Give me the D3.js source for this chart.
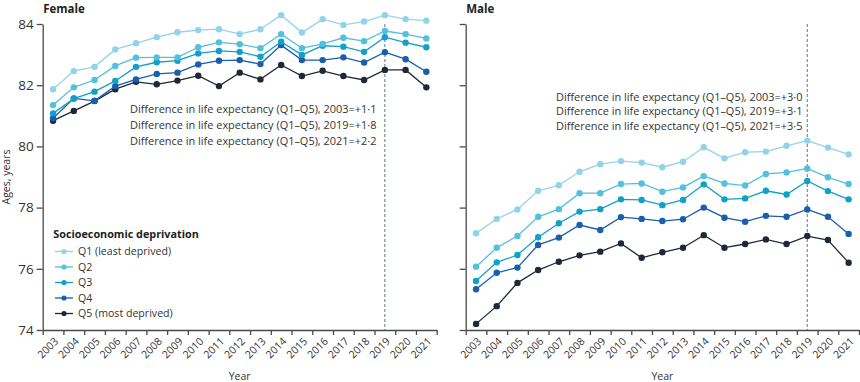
<!DOCTYPE html>
<html>
<head>
<meta charset="utf-8">
<script src="https://cdn.jsdelivr.net/npm/d3@7"></script>
<style>
  body { margin: 0; background: #fff; }
  svg { display: block; font-family: 'Open Sans', sans-serif; }
</style>
</head>
<body>
<div id="d3-container"></div>
<script>
// years on the x axis
const years = [2003, 2004, 2005, 2006, 2007, 2008, 2009, 2010, 2011, 2012,
  2013, 2014, 2015, 2016, 2017, 2018, 2019, 2020, 2021];
const yTicks = [74, 76, 78, 80, 82, 84];

const groups = ["Q1 (least deprived)", "Q2", "Q3", "Q4", "Q5 (most deprived)"];
const colors = ["#93d3ea", "#52c0de", "#10a1c8", "#1a5eac", "#1f2838"];

// life expectancy
const female_q1 = [81.87, 82.46, 82.60, 83.17, 83.37, 83.57, 83.73, 83.80, 83.83, 83.67, 83.83, 84.29, 83.72, 84.16, 83.97, 84.08, 84.29, 84.16, 84.11];
const female_q2 = [81.35, 81.93, 82.17, 82.63, 82.90, 82.91, 82.91, 83.24, 83.40, 83.34, 83.21, 83.67, 83.21, 83.35, 83.55, 83.44, 83.77, 83.67, 83.53];
const female_q3 = [81.08, 81.56, 81.79, 82.14, 82.60, 82.75, 82.80, 83.04, 83.12, 83.09, 82.93, 83.42, 82.99, 83.29, 83.26, 83.09, 83.57, 83.39, 83.24];
const female_q4 = [80.92, 81.57, 81.49, 81.97, 82.19, 82.37, 82.41, 82.68, 82.80, 82.82, 82.69, 83.31, 82.82, 82.82, 82.91, 82.74, 83.08, 82.85, 82.44];
const female_q5 = [80.84, 81.16, 81.48, 81.87, 82.11, 82.03, 82.15, 82.31, 81.97, 82.41, 82.19, 82.66, 82.30, 82.47, 82.30, 82.17, 82.50, 82.50, 81.93];

const male_q1 = [77.16, 77.63, 77.94, 78.55, 78.73, 79.17, 79.42, 79.52, 79.47, 79.32, 79.50, 79.97, 79.61, 79.81, 79.83, 80.02, 80.19, 79.96, 79.74];
const male_q2 = [76.07, 76.69, 77.07, 77.70, 77.95, 78.47, 78.47, 78.77, 78.79, 78.52, 78.66, 79.03, 78.79, 78.72, 79.10, 79.15, 79.28, 78.99, 78.77];
const male_q3 = [75.60, 76.21, 76.45, 77.03, 77.49, 77.87, 77.95, 78.27, 78.25, 78.08, 78.25, 78.76, 78.27, 78.30, 78.55, 78.43, 78.87, 78.54, 78.27];
const male_q4 = [75.33, 75.87, 76.04, 76.78, 77.02, 77.43, 77.27, 77.69, 77.63, 77.56, 77.62, 78.00, 77.67, 77.54, 77.73, 77.70, 77.94, 77.70, 77.14];
const male_q5 = [74.20, 74.78, 75.54, 75.96, 76.23, 76.44, 76.56, 76.83, 76.36, 76.54, 76.69, 77.10, 76.69, 76.81, 76.96, 76.81, 77.07, 76.94, 76.20];

const female_notes = [
  "Difference in life expectancy (Q1\u2013Q5), 2003=+1\u00b71",
  "Difference in life expectancy (Q1\u2013Q5), 2019=+1\u00b78",
  "Difference in life expectancy (Q1\u2013Q5), 2021=+2\u00b72"];
const male_notes = [
  "Difference in life expectancy (Q1\u2013Q5), 2003=+3\u00b70",
  "Difference in life expectancy (Q1\u2013Q5), 2019=+3\u00b71",
  "Difference in life expectancy (Q1\u2013Q5), 2021=+3\u00b75"];

const markYear = 2019;

const w = 860;
const h = 382;
const axisColor = "#4a4a4a";
const textColor = "#333";

const svg = d3.select("#d3-container")
  .append("svg")
  .attr("width", w)
  .attr("height", h)
  .attr("id", "chart");

const y = d3.scaleLinear().domain([74, 84]).range([330, 24]);

const panels = [
  { title: "Female", x0: 42.7, x1: 436.7, series: [female_q1, female_q2, female_q3, female_q4, female_q5],
    notes: female_notes, noteX: 130, noteY: 113, noteGap: 16.2, labels: true },
  { title: "Male", x0: 465.7, x1: 859, series: [male_q1, male_q2, male_q3, male_q4, male_q5],
    notes: male_notes, noteX: 556, noteY: 100.5, noteGap: 14.5, labels: false }
];

panels.forEach(function(p) {
  const x = d3.scaleLinear()
    .domain([years[0] - 0.5, years[years.length - 1] + 0.5])
    .range([p.x0, p.x1]);

  const g = svg.append("g");

  // title
  g.append("text")
    .attr("x", p.x0 + 0.5)
    .attr("y", 12.5)
    .style("font-weight", "bold")
    .style("font-size", "11.5px")
    .style("fill", "#222")
    .text(p.title);

  // dashed reference line at 2019
  g.append("line")
    .attr("x1", x(markYear)).attr("x2", x(markYear))
    .attr("y1", y(84)).attr("y2", y(74))
    .attr("stroke", "#56788a")
    .attr("stroke-width", 1)
    .attr("stroke-dasharray", "3,2");

  // y axis
  const yAxis = d3.axisLeft(y).tickValues(yTicks).tickSize(6).tickSizeOuter(0).tickPadding(3);
  if (!p.labels) yAxis.tickFormat("");
  const ya = g.append("g").attr("transform", `translate(${p.x0},0)`).call(yAxis);
  ya.select(".domain").attr("stroke", axisColor).attr("stroke-width", 1.3);
  ya.selectAll(".tick line").attr("stroke", axisColor).attr("stroke-width", 1.3);
  ya.selectAll(".tick text").style("font-size", "13.5px").style("fill", textColor).style("font-family", "'Open Sans', sans-serif");

  // x axis: ticks at band edges
  const edges = d3.range(years[0] - 0.5, years[years.length - 1] + 1, 1);
  const xAxis = d3.axisBottom(x).tickValues(edges).tickSize(5).tickSizeOuter(0).tickFormat("");
  const xa = g.append("g").attr("transform", `translate(0,${y(74)})`).call(xAxis);
  xa.select(".domain").attr("stroke", axisColor).attr("stroke-width", 1.3);
  xa.selectAll(".tick line").attr("stroke", axisColor).attr("stroke-width", 1.3);

  // year labels, rotated
  g.selectAll(".year")
    .data(years)
    .join("text")
    .attr("class", "year")
    .attr("transform", d => `translate(${x(d) + 6},${y(74) + 12}) rotate(-45)`)
    .style("text-anchor", "end")
    .style("font-size", "10.5px")
    .style("fill", textColor)
    .text(d => d);

  g.append("text")
    .attr("x", (p.x0 + p.x1) / 2)
    .attr("y", 380)
    .style("text-anchor", "middle")
    .style("font-size", "10.5px")
    .style("fill", textColor)
    .text("Year");

  // lines and points, Q5 drawn first so lighter ones sit on top
  const line = d3.line().x((d, i) => x(years[i])).y(d => y(d));
  for (let k = p.series.length - 1; k >= 0; k--) {
    const s = p.series[k];
    g.append("path")
      .datum(s)
      .attr("d", line)
      .attr("fill", "none")
      .attr("stroke", colors[k])
      .attr("stroke-width", 1.3);
    g.selectAll(".pt" + k)
      .data(s)
      .join("circle")
      .attr("class", "pt" + k)
      .attr("cx", (d, i) => x(years[i]))
      .attr("cy", d => y(d))
      .attr("r", 3.2)
      .attr("fill", colors[k]);
  }

  // annotation
  g.selectAll(".note")
    .data(p.notes)
    .join("text")
    .attr("class", "note")
    .attr("x", p.noteX)
    .attr("y", (d, i) => p.noteY + i * p.noteGap)
    .style("font-size", "10.95px")
    .style("fill", textColor)
    .text(d => d);
});

// y axis title
svg.append("text")
  .attr("transform", "translate(10,177) rotate(-90)")
  .style("text-anchor", "middle")
  .style("font-size", "10.5px")
  .style("fill", textColor)
  .text("Ages, years");

// legend
const legend = svg.append("g");
legend.append("text")
  .attr("x", 53.3)
  .attr("y", 238)
  .style("font-weight", "bold")
  .style("font-size", "10.8px")
  .style("fill", "#222")
  .text("Socioeconomic deprivation");

groups.forEach(function(name, i) {
  const cy = 251.5 + i * 15.5;
  legend.append("line")
    .attr("x1", 55).attr("x2", 73)
    .attr("y1", cy).attr("y2", cy)
    .attr("stroke", colors[i])
    .attr("stroke-width", 1.3);
  legend.append("circle")
    .attr("cx", 64).attr("cy", cy).attr("r", 2.6)
    .attr("fill", colors[i]);
  legend.append("text")
    .attr("x", 78)
    .attr("y", cy)
    .attr("dy", "0.35em")
    .style("font-size", "10.6px")
    .style("fill", textColor)
    .text(name);
});
</script>
</body>
</html>
